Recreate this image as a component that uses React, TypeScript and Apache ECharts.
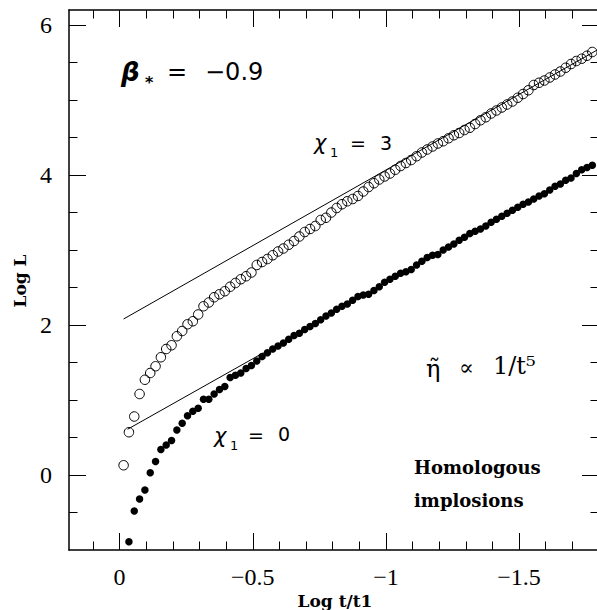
import React, { useEffect, useRef } from "react";
import * as echarts from "echarts";

// x positions (Log t/t1) of the simulation outputs
const xGrid = [
  -0.015, -0.035, -0.055, -0.075, -0.095, -0.115, -0.135, -0.155, -0.175, -0.195,
  -0.215, -0.235, -0.255, -0.275, -0.295, -0.315, -0.335, -0.355, -0.375, -0.395,
  -0.415, -0.435, -0.455, -0.475, -0.495, -0.515, -0.535, -0.555, -0.575, -0.595,
  -0.615, -0.635, -0.655, -0.675, -0.695, -0.715, -0.735, -0.755, -0.775, -0.795,
  -0.815, -0.835, -0.855, -0.875, -0.895, -0.915, -0.935, -0.955, -0.975, -0.995,
  -1.015, -1.035, -1.055, -1.075, -1.095, -1.115, -1.135, -1.155, -1.175, -1.195,
  -1.215, -1.235, -1.255, -1.275, -1.295, -1.315, -1.335, -1.355, -1.375, -1.395,
  -1.415, -1.435, -1.455, -1.475, -1.495, -1.515, -1.535, -1.555, -1.575, -1.595,
  -1.615, -1.635, -1.655, -1.675, -1.695, -1.715, -1.735, -1.755, -1.775,
];

// Log L, chi1 = 3 (open circles)
const logLChi3 = [
  0.13, 0.57, 0.78, 1.08, 1.27, 1.36, 1.45, 1.57, 1.68, 1.73,
  1.85, 1.92, 2.01, 2.05, 2.14, 2.25, 2.30, 2.37, 2.41, 2.45,
  2.51, 2.56, 2.61, 2.65, 2.70, 2.80, 2.84, 2.88, 2.93, 2.98,
  3.02, 3.07, 3.12, 3.18, 3.24, 3.28, 3.32, 3.40, 3.43, 3.50,
  3.56, 3.61, 3.65, 3.68, 3.72, 3.78, 3.84, 3.89, 3.94, 3.98,
  4.02, 4.07, 4.12, 4.16, 4.20, 4.25, 4.30, 4.34, 4.38, 4.42,
  4.45, 4.49, 4.53, 4.56, 4.60, 4.63, 4.68, 4.73, 4.77, 4.82,
  4.86, 4.90, 4.94, 4.98, 5.03, 5.08, 5.13, 5.20, 5.23, 5.26,
  5.30, 5.34, 5.38, 5.43, 5.48, 5.52, 5.55, 5.59, 5.64,
];

// Log L, chi1 = 0 (filled dots); first output lies below the frame
const logLChi0 = [
  null, -0.89, -0.48, -0.32, -0.20, 0.03, 0.18, 0.34, 0.40, 0.46,
  0.60, 0.69, 0.79, 0.85, 0.89, 1.01, 1.01, 1.08, 1.14, 1.18,
  1.30, 1.33, 1.36, 1.42, 1.46, 1.52, 1.58, 1.63, 1.68, 1.72,
  1.76, 1.81, 1.86, 1.89, 1.94, 1.98, 2.02, 2.07, 2.12, 2.16,
  2.21, 2.25, 2.28, 2.33, 2.38, 2.40, 2.41, 2.46, 2.51, 2.57,
  2.61, 2.65, 2.69, 2.71, 2.74, 2.80, 2.85, 2.90, 2.93, 2.94,
  3.00, 3.04, 3.08, 3.13, 3.17, 3.22, 3.25, 3.28, 3.32, 3.37,
  3.41, 3.45, 3.49, 3.53, 3.57, 3.61, 3.64, 3.68, 3.72, 3.75,
  3.80, 3.85, 3.88, 3.93, 3.96, 4.02, 4.07, 4.10, 4.13,
];

// straight reference lines (slope 2)
const fitUpperX = [-0.015, -1.8];
const fitUpperY = [2.08, 5.68];
const fitLowerX = [-0.03, -0.54];
const fitLowerY = [0.61, 1.63];

// axis ticks
const xMajorTicks = [0, -0.5, -1, -1.5];
const xMinorTicks = [0.1, 0, -0.1, -0.2, -0.3, -0.4, -0.5, -0.6, -0.7, -0.8, -0.9, -1, -1.1, -1.2, -1.3, -1.4, -1.5, -1.6, -1.7];
const yMajorTicks = [0, 2, 4, 6];
const yMinorTicks = [-0.5, 0, 0.5, 1, 1.5, 2, 2.5, 3, 3.5, 4, 4.5, 5, 5.5, 6];

const X_MIN = -1.8;
const X_MAX = 0.19;
const Y_MIN = -1;
const Y_MAX = 6.2;

const fmtX = (v: number) => (v === 0 ? "0" : "\u2212" + String(Math.abs(v)));

export default function App() {
  const ref = useRef<HTMLDivElement>(null);
  useEffect(() => {
    if (!ref.current) return;
    const chart = echarts.init(ref.current, undefined, { renderer: "svg" });
    const black = "#000";
    const tickFont = { fontFamily: "Liberation Serif", fontSize: 24, color: black };

    const xAxisBase = (position: "bottom" | "top", ticks: number[], len: number, labels: boolean, line: boolean) => ({
      type: "value",
      min: X_MIN,
      max: X_MAX,
      inverse: true,
      position,
      gridIndex: 0,
      axisLine: { show: line, onZero: false, lineStyle: { color: black, width: 1.5 } },
      axisTick: { show: true, inside: true, length: len, customValues: ticks, lineStyle: { color: black, width: 1 } },
      axisLabel: labels
        ? { show: true, customValues: xMajorTicks, formatter: fmtX, margin: 15, ...tickFont }
        : { show: false },
      splitLine: { show: false },
    });
    const yAxisBase = (position: "left" | "right", ticks: number[], len: number, labels: boolean, line: boolean) => ({
      type: "value",
      min: Y_MIN,
      max: Y_MAX,
      position,
      gridIndex: 0,
      axisLine: { show: line, onZero: false, lineStyle: { color: black, width: 1.5 } },
      axisTick: { show: true, inside: true, length: len, customValues: ticks, lineStyle: { color: black, width: 1 } },
      axisLabel: labels
        ? { show: true, customValues: yMajorTicks, formatter: (v: number) => String(v), margin: 17, ...tickFont }
        : { show: false },
      splitLine: { show: false },
    });

    const openData = xGrid.map((x, i) => [x, logLChi3[i]]);
    const filledData = xGrid
      .map((x, i) => [x, logLChi0[i]])
      .filter((p) => p[1] !== null);

    const sans = "DejaVu Sans";
    const serif = "DejaVu Serif";
    const txt = (text: string, x: number, y: number, font: Record<string, any>, extra: Record<string, any> = {}) => ({
      type: "text",
      x,
      y,
      silent: true,
      ...extra,
      style: {
        text,
        fill: black,
        textAlign: "left",
        textVerticalAlign: "middle",
        align: "left",
        verticalAlign: "middle",
        ...font,
      },
    });

    chart.setOption({
      animation: false,
      backgroundColor: "#fff",
      grid: { left: 69, top: 10, width: 530, height: 540, containLabel: false, outerBoundsMode: "none" },
      xAxis: [
        xAxisBase("bottom", xMajorTicks, 17, true, true),
        xAxisBase("bottom", xMinorTicks, 8.5, false, false),
        xAxisBase("top", xMajorTicks, 17, false, true),
        xAxisBase("top", xMinorTicks, 8.5, false, false),
      ],
      yAxis: [
        yAxisBase("left", yMajorTicks, 17, true, true),
        yAxisBase("left", yMinorTicks, 8.5, false, false),
        yAxisBase("right", yMajorTicks, 17, false, true),
        yAxisBase("right", yMinorTicks, 8.5, false, false),
      ],
      series: [
        {
          type: "line",
          data: fitUpperX.map((x, i) => [x, fitUpperY[i]]),
          symbol: "none",
          lineStyle: { color: black, width: 1 },
          clip: true,
          silent: true,
        },
        {
          type: "line",
          data: fitLowerX.map((x, i) => [x, fitLowerY[i]]),
          symbol: "none",
          lineStyle: { color: black, width: 1 },
          clip: true,
          silent: true,
        },
        {
          type: "scatter",
          data: openData,
          symbol: "circle",
          symbolSize: 9.5,
          itemStyle: { color: "rgba(0,0,0,0)", borderColor: black, borderWidth: 1, opacity: 1 },
          silent: true,
        },
        {
          type: "scatter",
          data: filledData,
          symbol: "circle",
          symbolSize: 7.5,
          itemStyle: { color: black, opacity: 1 },
          silent: true,
        },
      ],
      graphic: [
        // axis names
        txt("Log L", 20, 281, { fontFamily: serif, fontWeight: "bold", fontSize: 17, textAlign: "center", align: "center" }, { rotation: Math.PI / 2 }),
        txt("Log t/t1", 335, 601, { fontFamily: serif, fontWeight: "bold", fontSize: 17, textAlign: "center", align: "center" }),
        // beta_* = -0.9
        txt("\u03B2", 121, 72, { fontFamily: sans, fontWeight: "bold", fontStyle: "italic", fontSize: 26 }),
        txt("*", 145, 82, { fontFamily: sans, fontWeight: "bold", fontSize: 16 }),
        txt("=", 167, 72, { fontFamily: sans, fontSize: 24 }),
        txt("\u22120.9", 205, 72, { fontFamily: sans, fontSize: 24 }),
        // chi_1 = 3
        txt("\u03C7", 314, 143, { fontFamily: sans, fontStyle: "italic", fontSize: 21 }),
        txt("1", 330, 152, { fontFamily: sans, fontSize: 13 }),
        txt("=", 350, 143, { fontFamily: sans, fontSize: 19 }),
        txt("3", 380, 143, { fontFamily: sans, fontSize: 19 }),
        // chi_1 = 0
        txt("\u03C7", 214, 436, { fontFamily: sans, fontStyle: "italic", fontSize: 21 }),
        txt("1", 230, 445, { fontFamily: sans, fontSize: 13 }),
        txt("=", 248, 435, { fontFamily: sans, fontSize: 19 }),
        txt("0", 278, 434, { fontFamily: sans, fontSize: 19 }),
        // eta tilde ~ 1/t^5
        txt("\u03B7\u0303", 426, 369, { fontFamily: serif, fontSize: 24 }),
        txt("\u221D", 459, 367, { fontFamily: serif, fontSize: 22 }),
        txt("1/t\u2075", 493, 366, { fontFamily: serif, fontSize: 24 }),
        // Homologous implosions
        txt("Homologous", 414, 467, { fontFamily: serif, fontWeight: "bold", fontSize: 18 }),
        txt("implosions", 414, 500, { fontFamily: serif, fontWeight: "bold", fontSize: 18 }),
      ],
    });
    return () => chart.dispose();
  }, []);
  return (
    <div
      ref={ref}
      style={{ position: "fixed", left: 0, top: 0, width: 597, height: 610, background: "#fff" }}
    />
  );
}
